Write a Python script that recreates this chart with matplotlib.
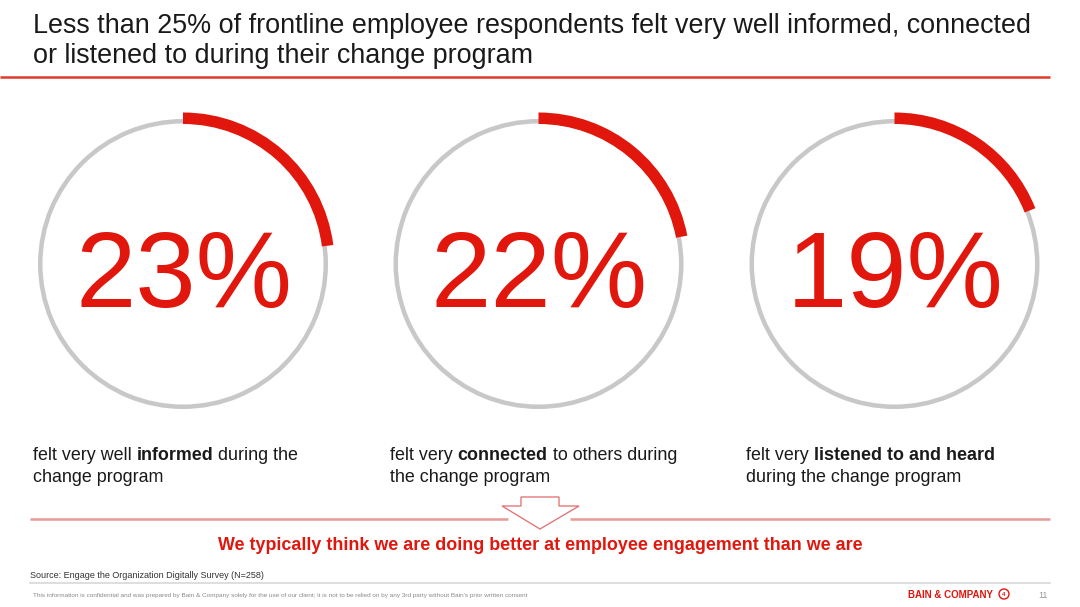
import matplotlib
matplotlib.use("Agg")
import matplotlib.pyplot as plt
from matplotlib.patches import Wedge, Circle, Polygon

plt.rcParams['font.family'] = ['Liberation Sans', 'DejaVu Sans']

RED = '#e1160c'
GREY_RING = '#c8c8c8'

# data
title_lines = ["Less than 25% of frontline employee respondents felt very well informed, connected",
               "or listened to during their change program"]
shares = [23, 22, 19]
captions = [
    [("felt very well", False), ("informed", True), ("during the", False)],
    [("felt very", False), ("connected", True), ("to others during", False)],
    [("felt very", False), ("listened to and heard", True)],
]
captions_line2 = ["change program", "the change program", "during the change program"]
takeaway = "We typically think we are doing better at employee engagement than we are"
source = "Source: Engage the Organization Digitally Survey (N=258)"
disclaimer = ("This information is confidential and was prepared by Bain & Company solely for the use of our client; "
              "it is not to be relied on by any 3rd party without Bain's prior written consent")
page_no = "11"

W, H = 1080, 607
fig = plt.figure(figsize=(W / 100, H / 100), dpi=100)
ax = fig.add_axes([0, 0, 1, 1])
ax.set_xlim(0, W)
ax.set_ylim(H, 0)
ax.axis('off')

# title + rule
for i, line in enumerate(title_lines):
    ax.text(33, 33 + 30 * i, line, fontsize=19.4, color='#1a1a1a', va='baseline', ha='left')
ax.plot([0, 1050], [77, 77], color='#e03a2a', lw=1.8, solid_capstyle='butt')

centers = [183, 538.5, 894.5]
cy = 264
for cx, v in zip(centers, shares):
    ax.add_patch(Wedge((cx, cy), 145, 0, 360, width=4.5, color=GREY_RING, lw=0))
    ax.add_patch(Wedge((cx, cy), 151.5, -90, -90 + 3.6 * v, width=11.5, color=RED, lw=0))
    ax.text(cx + 1, 307, f"{v}%", fontsize=78, color=RED, ha='center', va='baseline')

# captions with inline bold
fig.canvas.draw()
rend = fig.canvas.get_renderer()


def text_w(s, **kw):
    t = ax.text(0, 0, s, fontsize=12.9, **kw)
    w = t.get_window_extent(renderer=rend).width
    t.remove()
    return w


space_w = text_w("a a") - text_w("aa")
col_x = [33, 390, 746]
for x0, parts, line2 in zip(col_x, captions, captions_line2):
    x = x0
    for txt, bold in parts:
        t = ax.text(x, 460, txt, fontsize=12.9, color='#1a1a1a', ha='left', va='baseline',
                    fontweight='bold' if bold else 'normal')
        x += text_w(txt, fontweight='bold' if bold else 'normal') + space_w
    ax.text(x0, 482, line2, fontsize=12.9, color='#1a1a1a', ha='left', va='baseline')

# divider with hollow arrow
ax.plot([30, 508], [518.5, 518.5], color='#e89a98', lw=1.8, solid_capstyle='butt')
ax.plot([570, 1050], [518.5, 518.5], color='#e89a98', lw=1.8, solid_capstyle='butt')
arrow = Polygon([(521, 497), (559, 497), (559, 506), (579, 506), (540, 529),
                 (502, 506), (521, 506)], closed=True, facecolor='white', edgecolor='#e07878', lw=1.0)
ax.add_patch(arrow)

ax.text(540, 545, takeaway, fontsize=12.9, color=RED, fontweight='bold', ha='center', va='center')

ax.text(30, 576, source, fontsize=6.45, color='#333333', ha='left', va='center')
ax.plot([30, 1050], [583, 583], color='#d8d8d8', lw=1.2)
ax.text(33, 595, disclaimer, fontsize=4.6, color='#8a8a8a', ha='left', va='center')
ax.text(908, 595, "BAIN & COMPANY", fontsize=7.0, color=RED, fontweight='bold', ha='left', va='center')
ax.add_patch(Circle((1004, 594), 5, fill=False, edgecolor=RED, lw=1.0))
ax.text(1004, 594.5, "4", fontsize=4.5, color=RED, fontweight='bold', ha='center', va='center')
ax.text(1043, 595, page_no, fontsize=6.5, color='#999999', ha='center', va='center')

fig.savefig("out.png", dpi=100)
